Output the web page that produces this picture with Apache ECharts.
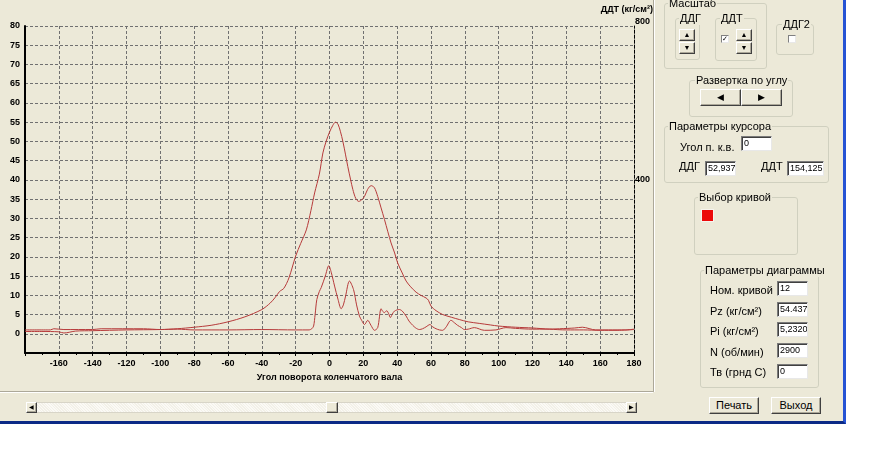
<!DOCTYPE html>
<html lang="ru">
<head>
<meta charset="UTF-8">
<title>Индикаторная диаграмма</title>
<script src="https://cdn.jsdelivr.net/npm/echarts@6/dist/echarts.min.js"></script>
<style>
html, body { margin: 0; padding: 0; background: #fff; }
body { width: 871px; height: 452px; position: relative; overflow: hidden; font-family: 'Liberation Sans', Arial, sans-serif; font-size: 11px; color: #000; }
#win { position: absolute; left: 0; top: 0; width: 843px; height: 421px; background: #ECE9D8; border-right: 3px solid #2553d4; border-bottom: 3px solid #0b2a86; }
#chart { position: absolute; left: 0; top: 0; width: 871px; height: 452px; }
.abs { position: absolute; }
.vsep { position: absolute; left: 653px; top: 0; width: 1px; height: 392px; background: #aca899; border-right: 1px solid #fff; }
.hsep { position: absolute; left: 0; top: 391px; width: 653px; height: 1px; background: #aca899; border-bottom: 1px solid #fff; }
.gb { position: absolute; border: 1px solid #d0d0bf; border-radius: 3px; }
.gb > .t { position: absolute; top: -7px; left: 3px; background: #ECE9D8; padding: 0 1px; line-height: 13px; white-space: nowrap; }
.btn { position: absolute; box-sizing: border-box; background: #ECE9D8; border: 1px solid; border-color: #fff #404040 #404040 #fff; box-shadow: inset -1px -1px 0 #aca899; text-align: center; line-height: 14px; }
.inp { position: absolute; box-sizing: border-box; background: #fff; border: 1px solid; border-color: #7a7a7a #e8e8e8 #e8e8e8 #7a7a7a; box-shadow: inset 1px 1px 0 #404040; padding: 0 0 0 2px; font-size: 9px; line-height: 12px; white-space: nowrap; overflow: hidden; }
.chk { position: absolute; box-sizing: border-box; width: 8px; height: 8px; background: #fff; border: 1px solid; border-color: #808080 #e8e8e8 #e8e8e8 #808080; font-size: 7px; line-height: 6px; text-align: center; }
.lbl { position: absolute; white-space: nowrap; line-height: 13px; }
.arr { font-size: 7px; line-height: 10px; }
#scroll { position: absolute; left: 26px; top: 402px; width: 611px; height: 11px; background: repeating-linear-gradient(45deg, #f3f1e8 0 1px, #fbfaf6 1px 2px); border: 1px solid #d8d5c8; box-sizing: border-box; }
</style>
</head>
<body>
<div id="win"></div>
<div id="chart"></div>
<div class="vsep"></div>
<div class="hsep"></div>

<div id="scroll">
<div class="btn" style="left:-1px;top:-1px;width:11px;height:11px;font-size:6px;line-height:9px;">&#9664;</div>
<div class="btn" style="left:299px;top:-1px;width:12px;height:11px;"></div>
<div class="btn" style="right:-1px;top:-1px;width:11px;height:11px;font-size:6px;line-height:9px;">&#9654;</div>
</div>

<!-- Масштаб -->
<div class="gb" style="left:664px;top:3px;width:101px;height:64px;"><span class="t">Масштаб</span></div>
<div class="gb" style="left:675px;top:18px;width:23px;height:40px;"><span class="t" style="left:3px;">ДДГ</span></div>
<div class="btn arr" style="left:679px;top:29px;width:16px;height:12px;">&#9650;</div>
<div class="btn arr" style="left:679px;top:42px;width:16px;height:12px;">&#9660;</div>
<div class="gb" style="left:715px;top:18px;width:40px;height:41px;"><span class="t" style="left:4px;">ДДТ</span></div>
<div class="chk" style="left:721px;top:35px;">&#10003;</div>
<div class="btn arr" style="left:736px;top:29px;width:16px;height:12px;">&#9650;</div>
<div class="btn arr" style="left:736px;top:42px;width:16px;height:12px;">&#9660;</div>
<div class="gb" style="left:776px;top:24px;width:36px;height:29px;"><span class="t" style="left:5px;">ДДГ2</span></div>
<div class="chk" style="left:788px;top:35px;"></div>

<!-- Развертка по углу -->
<div class="gb" style="left:689px;top:80px;width:102px;height:35px;"><span class="t" style="left:5px;">Развертка по углу</span></div>
<div class="btn" style="left:700px;top:89px;width:41px;height:17px;font-size:9px;">&#9664;</div>
<div class="btn" style="left:741px;top:89px;width:41px;height:17px;font-size:9px;">&#9654;</div>

<!-- Параметры курсора -->
<div class="gb" style="left:664px;top:126px;width:163px;height:55px;"><span class="t">Параметры курсора</span></div>
<div class="lbl" style="left:680px;top:141px;">Угол п. к.в.</div>
<div class="inp" style="left:741px;top:136px;width:31px;height:15px;">0</div>
<div class="lbl" style="left:679px;top:160px;">ДДГ</div>
<div class="inp" style="left:705px;top:161px;width:31px;height:15px;">52,937</div>
<div class="lbl" style="left:761px;top:160px;">ДДТ</div>
<div class="inp" style="left:787px;top:161px;width:37px;height:15px;">154,125</div>

<!-- Выбор кривой -->
<div class="gb" style="left:694px;top:197px;width:102px;height:56px;"><span class="t">Выбор кривой</span></div>
<div class="abs" style="left:701px;top:209px;width:11px;height:11px;background:#ec0a0a;border:1px solid #f6f4ee;"></div>

<!-- Параметры диаграммы -->
<div class="gb" style="left:700px;top:270px;width:117px;height:116px;"><span class="t">Параметры диаграммы</span></div>
<div class="lbl" style="left:710px;top:284px;">Ном. кривой</div>
<div class="inp" style="left:777px;top:281px;width:31px;height:15px;">12</div>
<div class="lbl" style="left:710px;top:305px;">Pz (кг/см²)</div>
<div class="inp" style="left:777px;top:302px;width:31px;height:15px;">54.437</div>
<div class="lbl" style="left:710px;top:325px;">Pi (кг/см²)</div>
<div class="inp" style="left:777px;top:322px;width:31px;height:15px;">5,2320</div>
<div class="lbl" style="left:710px;top:346px;">N (об/мин)</div>
<div class="inp" style="left:777px;top:343px;width:31px;height:15px;">2900</div>
<div class="lbl" style="left:710px;top:366px;">Тв (грнд С)</div>
<div class="inp" style="left:777px;top:364px;width:31px;height:15px;">0</div>

<div class="btn" style="left:709px;top:397px;width:50px;height:17px;">Печать</div>
<div class="btn" style="left:771px;top:397px;width:50px;height:17px;">Выход</div>

<script>
// угол поворота коленвала, град
const ddgAngle = [-180, -170, -160, -157, -150, -140, -120, -100, -90, -80, -70, -60, -50, -40, -35, -32, -29.5, -27, -24, -20, -17, -13.7, -11, -8.8, -6, -3.9, -2, 0, 2, 3.5, 5, 6.5, 7.9, 9.5, 10.8, 12.5, 13.8, 15.5, 17.3, 19, 20.7, 22.5, 24.6, 26.5, 28.5, 30.5, 32.5, 34.5, 36.4, 38.5, 40.3, 43, 45.3, 48, 51.2, 54, 57.1, 58.5, 60, 63, 66.9, 72, 76.7, 82, 88.5, 95, 100, 110, 120, 130, 140, 150, 160, 170, 180];
// ДДГ, кг/см2 (левая шкала)
const ddgValue = [0.6, 0.6, 0.5, 0.2, 0.7, 0.8, 1.0, 1.1, 1.3, 1.7, 2.2, 3.1, 4.4, 6.3, 8.0, 9.5, 11.0, 11.8, 14.5, 20.2, 23.5, 27, 32, 36.6, 41.5, 47, 50, 52.4, 54.2, 55, 54.5, 52.5, 50, 46.5, 43.5, 40, 37.5, 35.2, 34.4, 34.8, 35.7, 37.5, 38.5, 38, 35.7, 32.7, 29.7, 26.5, 23.6, 21, 18.4, 15.8, 13.7, 12.2, 10.8, 10.0, 9.3, 8.7, 7.2, 6.0, 5.0, 4.3, 3.7, 3.1, 2.7, 2.3, 2.0, 1.7, 1.5, 1.2, 1.0, 1.0, 0.9, 0.9, 1.1];

const ddtAngle = [-180, -165, -163, -157, -140, -135, -110, -100, -90, -80, -60, -40, -20, -12, -10.5, -9.4, -8.5, -7.5, -6, -4.9, -2.5, -0.4, 1, 3, 5, 6.9, 8.2, 9.5, 11.8, 14.2, 16, 17.7, 19, 20.7, 22.6, 24.5, 26.6, 28.5, 30.5, 31.5, 32.5, 33.8, 35, 36, 37, 38.4, 41.3, 43, 45.3, 47, 49.2, 51, 53.1, 55, 57.1, 59.4, 61, 63, 65, 66.9, 69, 71.8, 74, 75.7, 78, 79.7, 82, 85.6, 91.5, 98.4, 104.3, 110, 120, 128, 136, 145, 149.5, 157.4, 165, 175, 180];
// ДДТ, кг/см2 (правая шкала)
const ddtValue = [10, 10, 13, 11, 11, 13, 13, 11, 12, 10, 10, 11, 10, 10, 13, 20, 50, 89, 110, 120, 150, 177, 160, 124, 90, 65, 75, 98, 137, 115, 75, 46, 35, 24, 35, 22, 9, 16, 65, 58, 55, 60, 52, 42, 50, 59, 63, 59, 46, 33, 22, 15, 11, 13, 18, 24, 18, 13, 10, 9, 18, 35, 28, 22, 16, 11, 12, 16, 9, 10, 16, 14, 12, 12, 13, 15, 17, 10, 10, 10, 12];

const xTickStep = 20;
const leftTickStep = 5;
const rightLabels = [400, 800];

const pair = (xs, ys) => xs.map((x, i) => [x, ys[i]]);

const chart = echarts.init(document.getElementById('chart'), null, { renderer: 'canvas' });

const labelFont = { fontFamily: 'Liberation Sans', fontWeight: 'bold', fontSize: 9, color: '#000' };
const gridDash = { color: '#707070', width: 1, type: [3, 2] };

chart.setOption({
  animation: false,
  backgroundColor: 'transparent',
  grid: { left: 25, right: 237, top: 26, bottom: 99, containLabel: false, outerBoundsMode: 'none' },
  xAxis: {
    type: 'value', min: -180, max: 180, interval: xTickStep,
    name: 'Угол поворота коленчатого вала', nameLocation: 'middle', nameGap: 19,
    nameTextStyle: labelFont,
    axisLine: { onZero: false, lineStyle: { color: '#000', width: 2 } },
    axisTick: { show: true, length: 3, lineStyle: { color: '#000' } },
    minorTick: { show: true, splitNumber: 2, length: 2, lineStyle: { color: '#000' } },
    axisLabel: Object.assign({ margin: 6, formatter: v => v === -180 ? '' : String(v) }, labelFont),
    splitLine: { show: true, lineStyle: gridDash }
  },
  yAxis: [{
    type: 'value', min: -5, max: 80, interval: leftTickStep,
    name: 'ДДГ (кг/см²)', nameLocation: 'middle', nameGap: 19, nameRotate: 90,
    nameTextStyle: labelFont,
    axisLine: { show: true, onZero: false, lineStyle: { color: '#000', width: 2 } },
    axisTick: { show: false },
    axisLabel: Object.assign({ margin: 5, formatter: v => v < 0 ? '' : String(v) }, labelFont),
    splitLine: { show: true, lineStyle: gridDash }
  }, {
    type: 'value', min: -50, max: 800, interval: 50, position: 'right',
    name: 'ДДТ (кг/см²)', nameLocation: 'end', nameGap: 12,
    nameTextStyle: Object.assign({ align: 'right', padding: [0, -19, 0, 0] }, labelFont),
    axisLine: { show: true, onZero: false, lineStyle: { color: '#000', width: 1, type: [3, 2] } },
    axisTick: { show: false },
    axisLabel: Object.assign({
      margin: 1,
      formatter: v => rightLabels.indexOf(v) < 0 ? '' : (v === 800 ? '{t|' + v + '}' : String(v)),
      rich: { t: Object.assign({ padding: [0, 0, 8, 0] }, labelFont) }
    }, labelFont),
    splitLine: { show: false }
  }],
  series: [{
    name: 'ДДГ', type: 'line', yAxisIndex: 0, data: pair(ddgAngle, ddgValue),
    smooth: 0.3, symbol: 'none', lineStyle: { color: '#b63a3a', width: 1 }
  }, {
    name: 'ДДТ', type: 'line', yAxisIndex: 1, data: pair(ddtAngle, ddtValue),
    smooth: 0.3, symbol: 'none', lineStyle: { color: '#b63a3a', width: 1 }
  }]
});
</script>
</body>
</html>
